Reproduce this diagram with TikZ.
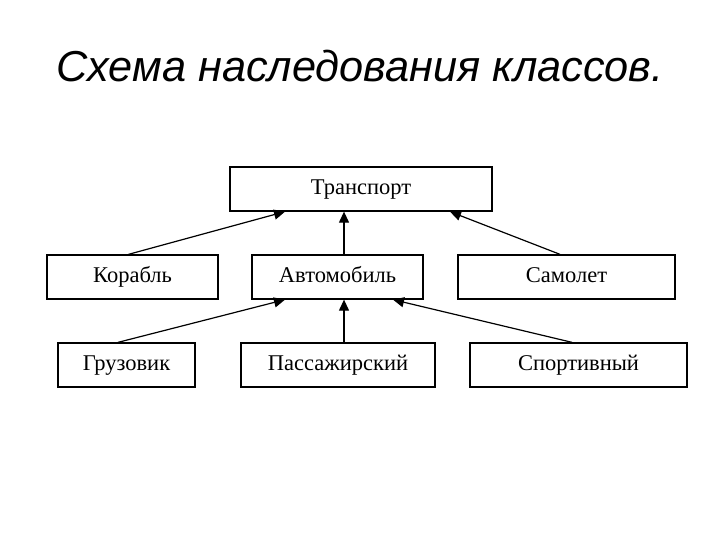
\documentclass[tikz,border=0pt]{standalone}
\usepackage{fontspec}
\setmainfont{Liberation Serif}
\newfontfamily\titlefont{Liberation Sans}
\usetikzlibrary{arrows.meta,positioning}

\begin{document}
\begin{tikzpicture}[x=1pt,y=-1pt,
    box/.style={draw, line width=1.3pt, minimum height=44pt, inner sep=0pt, text height=15pt, text depth=4pt, font=\fontsize{22.5}{26}\selectfont},
    inherit/.style={line width=1.2pt, -{Triangle[length=11pt,width=10pt]}}]
    \useasboundingbox[fill=white] (0,0) rectangle (720,540);

    \node[anchor=base, font=\titlefont\itshape\fontsize{43.3}{50}\selectfont] (title) at (360,82) {Схема наследования классов.};

    % Base class
    \node[box, minimum width=262pt] (transport) at (361,189) {Транспорт};

    % Second level
    \node[box, minimum width=171pt] (korabl) at (132.5,277) {Корабль};
    \node[box, minimum width=171pt] (avto) at (337.5,277) {Автомобиль};
    \node[box, minimum width=217pt] (samolet) at (566.5,277) {Самолет};

    % Third level
    \node[box, minimum width=137pt] (gruzovik) at (126.5,365) {Грузовик};
    \node[box, minimum width=194pt] (passazh) at (338,365) {Пассажирский};
    \node[box, minimum width=217pt] (sport) at (578.5,365) {Спортивный};

    % Inheritance arrows
    \draw[inherit] ([xshift=-4pt]korabl.north) -- ([xshift=-76pt]transport.south);
    \draw[inherit] ([xshift=6.5pt]avto.north) -- ([xshift=6.5pt]avto.north |- transport.south);
    \draw[inherit] ([xshift=-6.5pt]samolet.north) -- ([xshift=89pt]transport.south);

    \draw[inherit] ([xshift=-8.5pt]gruzovik.north) -- ([xshift=-52.5pt]avto.south);
    \draw[inherit] ([xshift=6pt]passazh.north) -- ([xshift=6pt]passazh.north |- avto.south);
    \draw[inherit] ([xshift=-6.5pt]sport.north) -- ([xshift=55.5pt]avto.south);
\end{tikzpicture}
\end{document}
